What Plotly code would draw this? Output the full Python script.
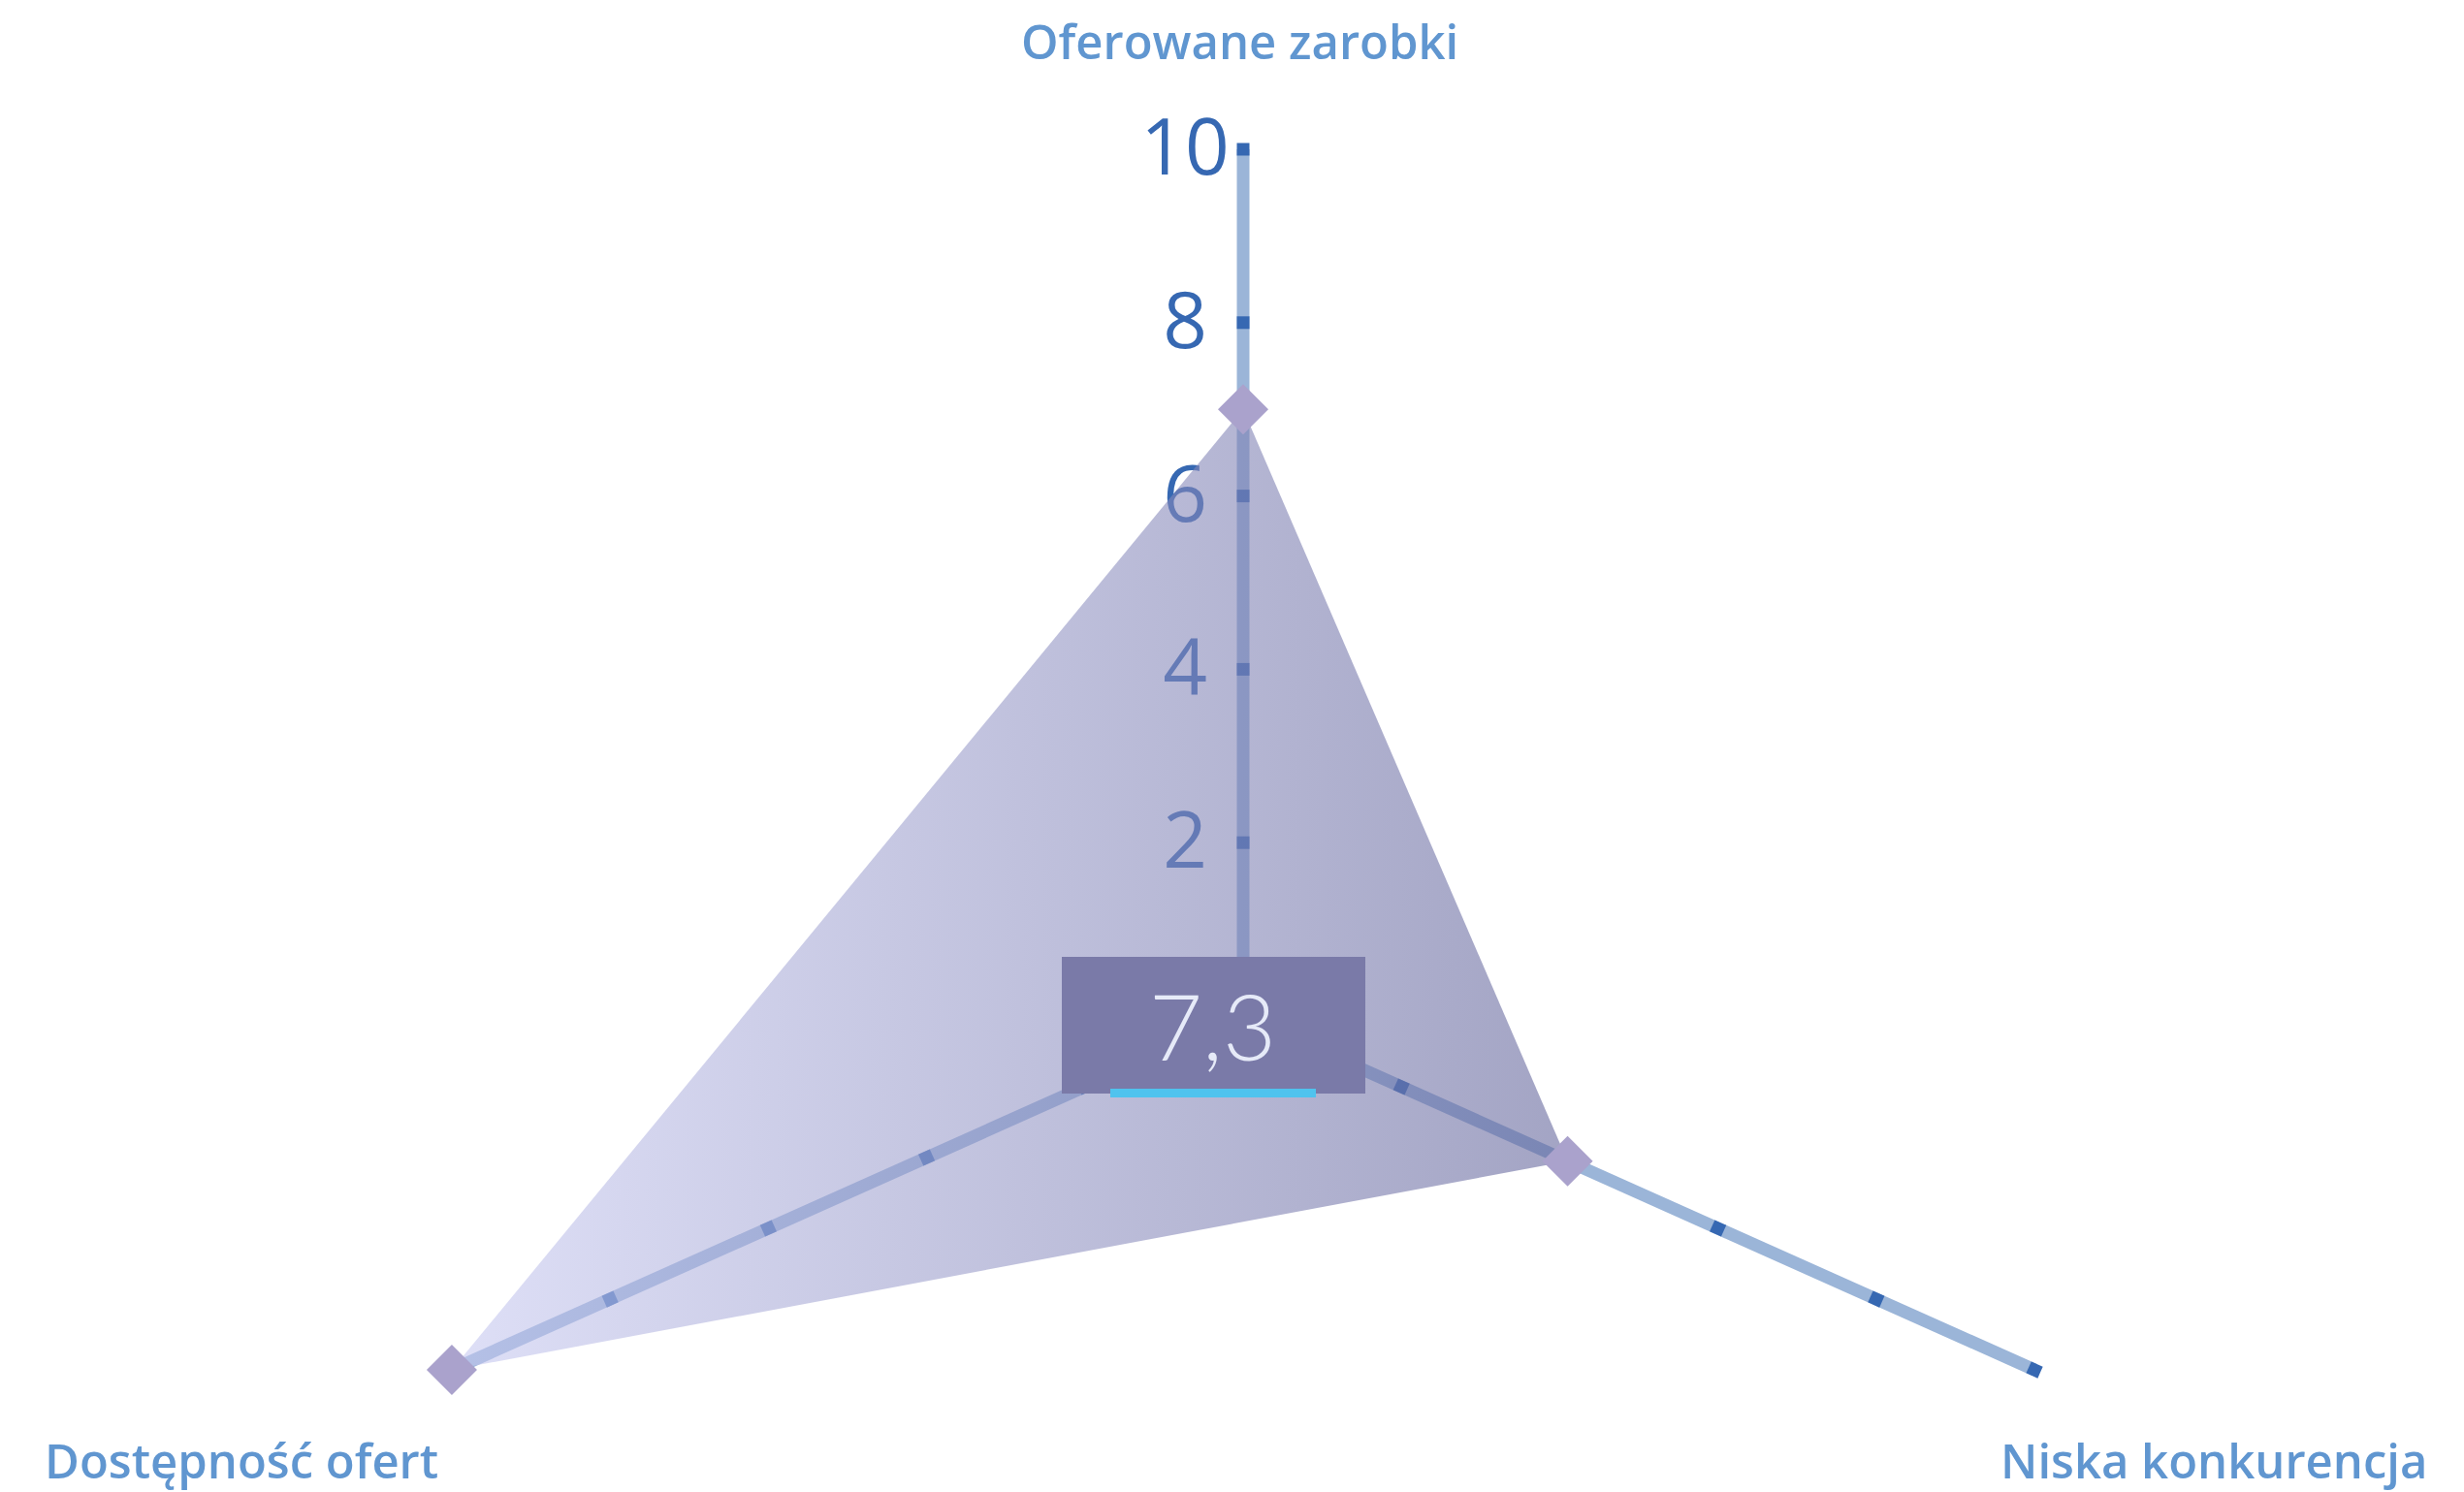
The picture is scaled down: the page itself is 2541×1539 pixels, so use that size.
import math
import plotly.graph_objects as go

# ---------------- data ----------------
categories = ["Oferowane zarobki", "Niska konkurencja", "Dostępność ofert"]
values = [7, 4.1, 10]
tick_values = [2, 4, 6, 8, 10]
tick_labels = ["2", "4", "6", "8", "10"]
score_label = "7,3"
r_max = 10

# ---------------- geometry / style ----------------
W, H = 2541, 1539
PAGE_MARGIN = 8              # default body margin of the html page
cx, cy = 1282, 1048          # centre of the radar (screen pixel space)
axis_len = 894               # length of an axis (value r_max)
axis_angles = [90.0, -24.1, 204.1]   # math convention degrees
label_pos = [(1278, 42), (2283, 1506), (249, 1506)]
tick_label_dx, tick_label_dy = -60, 6

AXIS_COLOR = "#9bb5d8"
TICK_COLOR = "#3668b2"
LABEL_COLOR = "#6096d0"
MARKER_COLOR = "#aaa2cc"


def direction(i):
    a = math.radians(axis_angles[i])
    return math.cos(a), -math.sin(a)


def point(i, v):
    dx, dy = direction(i)
    s = axis_len * v / r_max
    return cx + s * dx, cy + s * dy


fig = go.Figure()

# axes lines
for i in range(len(categories)):
    ex, ey = point(i, r_max)
    fig.add_trace(go.Scatter(x=[cx, ex], y=[cy, ey], mode="lines",
                             line=dict(color=AXIS_COLOR, width=13),
                             hoverinfo="skip", showlegend=False))

# tick caps
for i in range(len(categories)):
    xs, ys = zip(*[point(i, t) for t in tick_values])
    ang = (-axis_angles[i]) % 90
    if ang > 45:
        ang -= 90
    fig.add_trace(go.Scatter(x=list(xs), y=list(ys), mode="markers",
                             marker=dict(symbol="square", size=13, color=TICK_COLOR,
                                         angle=ang, line=dict(width=0)),
                             hoverinfo="skip", showlegend=False))

# tick labels along the top axis
ty = [point(0, t)[1] + tick_label_dy for t in tick_values]
fig.add_trace(go.Scatter(x=[cx + tick_label_dx] * len(tick_values), y=ty, mode="text",
                         text=tick_labels, textposition="middle center",
                         textfont=dict(family="Open Sans", size=80, color=TICK_COLOR),
                         hoverinfo="skip", showlegend=False))

# filled area
pts = [point(i, v) for i, v in enumerate(values)]
px = [p[0] for p in pts] + [pts[0][0]]
py = [p[1] for p in pts] + [pts[0][1]]
fig.add_trace(go.Scatter(x=px, y=py, mode="lines", fill="toself",
                         line=dict(width=0, color="rgba(0,0,0,0)"),
                         fillgradient=dict(type="horizontal",
                                           colorscale=[[0, "rgba(199,201,241,0.59)"],
                                                       [1, "rgba(99,101,155,0.59)"]]),
                         hoverinfo="skip", showlegend=False))

# value markers
fig.add_trace(go.Scatter(x=[p[0] for p in pts], y=[p[1] for p in pts], mode="markers",
                         marker=dict(symbol="diamond", size=40, color=MARKER_COLOR,
                                     line=dict(width=0)),
                         hoverinfo="skip", showlegend=False))

# score box
fig.add_shape(type="rect", x0=1095, x1=1408, y0=987, y1=1128,
              fillcolor="#7a7aa8", line=dict(width=0), layer="above")
fig.add_shape(type="rect", x0=1145, x1=1357, y0=1123, y1=1132,
              fillcolor="#4fc3ee", line=dict(width=0), layer="above")
fig.add_annotation(x=1250, y=1057, text=score_label, showarrow=False,
                   xanchor="center", yanchor="middle",
                   font=dict(family="Lato", size=95, color="#e6eaf8", weight=300))

# category labels
for name, (lx, ly) in zip(categories, label_pos):
    fig.add_annotation(x=lx, y=ly, text=name, showarrow=False,
                       xanchor="center", yanchor="middle",
                       font=dict(family="Open Sans", size=49, color=LABEL_COLOR, weight=600))

fig.update_layout(
    width=W - PAGE_MARGIN, height=H - PAGE_MARGIN,
    margin=dict(l=0, r=0, t=0, b=0),
    paper_bgcolor="white", plot_bgcolor="white",
    xaxis=dict(range=[PAGE_MARGIN, W], visible=False, fixedrange=True),
    yaxis=dict(range=[H, PAGE_MARGIN], visible=False, fixedrange=True),
    hovermode=False,
)

fig.write_html("out.html", config={"displayModeBar": False})
